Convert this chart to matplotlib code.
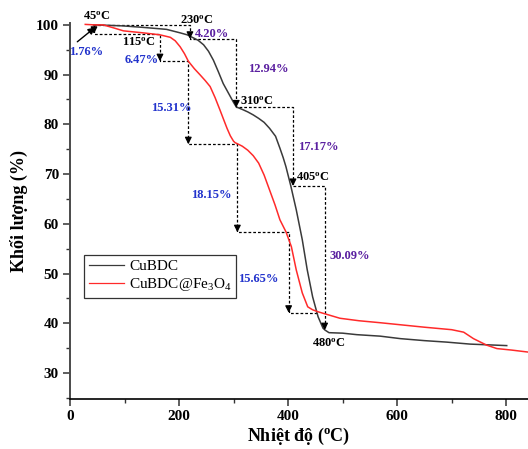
import matplotlib
matplotlib.use("Agg")
import matplotlib.pyplot as plt
from matplotlib.ticker import MultipleLocator

plt.rcParams['font.family'] = ['Liberation Serif', 'DejaVu Serif']
plt.rcParams['mathtext.fontset'] = 'custom'
plt.rcParams['mathtext.rm'] = 'Liberation Serif'
plt.rcParams['mathtext.it'] = 'Liberation Serif:italic'
plt.rcParams['mathtext.bf'] = 'Liberation Serif:bold'

# ---- data ----
cubdc_T = [43, 73, 97, 134, 177, 202, 215, 226, 235, 245, 254, 263, 272, 281, 288, 294, 300, 305, 316, 326,
           336, 346, 356, 366, 377, 385, 391, 396, 405, 415, 426, 435, 445, 455, 464, 468, 475, 500, 526,
           569, 606, 650, 691, 734, 801]
cubdc_W = [100.0, 99.9, 99.8, 99.5, 99.1, 98.4, 98.0, 97.4, 96.9, 96.0, 94.7, 92.9, 90.6, 88.2, 86.8, 85.6, 84.4, 83.5, 83.0, 82.5,
           81.9, 81.2, 80.4, 79.2, 77.6, 75.2, 73.3, 71.5, 67.6, 62.8, 56.8, 50.8, 45.3, 41.3, 39.0, 38.6, 38.1, 38.0, 37.7,
           37.4, 36.9, 36.5, 36.2, 35.8, 35.5]

fe_T = [28, 45, 61, 80, 98, 134, 165, 184, 193, 202, 210, 217, 228, 239, 248, 257, 266, 275, 282, 288, 294, 300,
        303, 307, 316, 326, 336, 346, 356, 366, 376, 385, 396, 406, 415, 426, 436, 445, 455, 495, 530, 569,
        605, 650, 700, 722, 740, 764, 783, 810, 840]
fe_W = [100.1, 100.0, 100.0, 99.4, 98.8, 98.4, 98.0, 97.5, 96.8, 95.6, 94.2, 92.7, 91.2, 89.9, 88.8, 87.6, 85.4, 82.9, 80.9, 79.2, 77.7, 76.6,
        76.3, 76.1, 75.6, 74.8, 73.7, 72.2, 69.8, 66.8, 63.8, 60.8, 58.4, 55.4, 50.7, 46.1, 43.3, 42.7, 42.3, 41.0, 40.5, 40.1,
        39.7, 39.2, 38.7, 38.2, 36.9, 35.6, 34.9, 34.6, 34.2]

# dashed step guides: (T, W) corners
cubdc_steps_T = [42, 220, 220, 305, 305, 409, 409, 467, 467]
cubdc_steps_W = [100.0, 100.0, 97.2, 97.2, 83.4, 83.4, 67.6, 67.6, 38.6]
fe_steps_T = [44, 44, 165, 165, 217, 217, 307, 307, 401, 401, 453]
fe_steps_W = [100.0, 98.2, 98.2, 92.7, 92.7, 76.0, 76.0, 58.3, 58.3, 42.1, 42.1]

temp_labels = ["45", "230", "115", "310", "405", "480"]
temp_label_T = [49.5, 232.5, 127, 343, 446, 474]
temp_label_W = [101.6, 100.8, 96.4, 84.5, 69.3, 35.9]

fe_pct = ["1.76%", "6.47%", "15.31%", "18.15%", "15.65%"]
fe_pct_T = [29.4, 131.6, 185.3, 260, 345.5]
fe_pct_W = [94.6, 92.9, 83.2, 65.8, 48.8]

cu_pct = ["4.20%", "12.94%", "17.17%", "30.09%"]
cu_pct_T = [260, 364, 455.6, 513.8]
cu_pct_W = [98.2, 91.1, 75.4, 53.6]

# ---- figure ----
fig = plt.figure(figsize=(5.28, 4.49), dpi=100)
ax = fig.add_axes([70/528, 1 - 399.3/449, 458/528, (399.3 - 23.4)/449])

ax.plot(cubdc_T, cubdc_W, color='#3a3a3a', lw=1.1, label='CuBDC', zorder=3)
ax.plot(fe_T, fe_W, color='#ff2a2a', lw=1.1, label='CuBDC@Fe$_3$O$_4$', zorder=3)

dash = (0, (2.2, 1.6))

def draw_steps(Ts, Ws):
    ax.plot(Ts, Ws, color='black', lw=0.9, linestyle=dash, zorder=2)
    # arrow heads at the end of each vertical segment
    for i in range(1, len(Ts)):
        if Ts[i] == Ts[i-1] and Ws[i] < Ws[i-1]:
            ax.annotate('', xy=(Ts[i], Ws[i]), xytext=(Ts[i], Ws[i] + 1.2),
                        arrowprops=dict(arrowstyle='-|>', color='black', lw=0.9,
                                        mutation_scale=10, shrinkA=0, shrinkB=0),
                        zorder=4, annotation_clip=False)

draw_steps(cubdc_steps_T, cubdc_steps_W)
draw_steps(fe_steps_T, fe_steps_W)

# diagonal arrow from 1.76% label
ax.annotate('', xy=(46, 99.5), xytext=(13.4, 96.6),
            arrowprops=dict(arrowstyle='-|>', color='black', lw=1.0,
                            mutation_scale=10, shrinkA=0, shrinkB=0),
            zorder=4, annotation_clip=False)

fs = 9
for lab, t, w in zip(temp_labels, temp_label_T, temp_label_W):
    ax.text(t, w, lab + r'$^\mathbf{o}$C', color='black', fontsize=fs, fontweight='bold',
            ha='center', va='center', clip_on=False, zorder=5)
for lab, t, w in zip(fe_pct, fe_pct_T, fe_pct_W):
    ax.text(t, w, lab, color='#2233cc', fontsize=fs, fontweight='bold',
            ha='center', va='center', clip_on=False, zorder=5)
for lab, t, w in zip(cu_pct, cu_pct_T, cu_pct_W):
    ax.text(t, w, lab, color='#5a1fa0', fontsize=fs, fontweight='bold',
            ha='center', va='center', clip_on=False, zorder=5)

ax.set_xlim(0, 840)
ax.set_ylim(24.7, 100.3)
ax.xaxis.set_major_locator(MultipleLocator(200))
ax.xaxis.set_minor_locator(MultipleLocator(100))
ax.yaxis.set_minor_locator(MultipleLocator(5))
ax.set_yticks([30, 40, 50, 60, 70, 80, 90, 100])

for s in ['top', 'right']:
    ax.spines[s].set_visible(False)
ax.spines['left'].set_color('#4a4a4a')
ax.spines['left'].set_linewidth(1.4)
ax.spines['bottom'].set_color('black')
ax.spines['bottom'].set_linewidth(1.2)

ax.tick_params(axis='both', which='major', direction='out', length=5, width=1.1,
               colors='#333333', labelsize=11, labelcolor='black', pad=3)
ax.tick_params(axis='both', which='minor', direction='out', length=3, width=1.0, colors='#333333')
for lbl in ax.get_xticklabels() + ax.get_yticklabels():
    lbl.set_fontweight('bold')

ax.set_xlabel(r'Nhiệt độ ($^\mathbf{o}$C)', fontsize=13, fontweight='bold', labelpad=2)
ax.set_ylabel('Khối lượng (%)', fontsize=13, fontweight='bold', labelpad=6)

leg = ax.legend(loc='upper left', bbox_to_anchor=(14/458, (399.3 - 255)/376),
                borderaxespad=0, fontsize=11, frameon=True, fancybox=False,
                edgecolor='black', handlelength=2.3, handletextpad=0.35,
                borderpad=0.3, labelspacing=0.2)
leg.get_frame().set_linewidth(0.9)
for h in leg.get_lines():
    h.set_linewidth(0.9)

fig.savefig('out.png', dpi=100)
